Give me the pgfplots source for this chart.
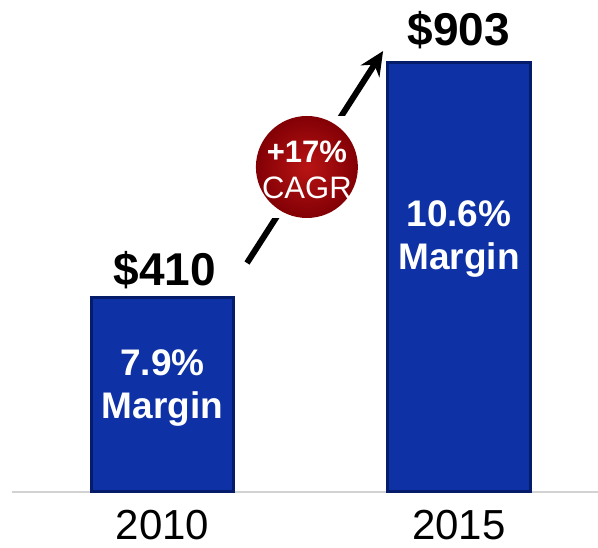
\documentclass[border=0pt]{standalone}
\usepackage{pgfplots}
\pgfplotsset{compat=1.18}
\usepackage{fontspec}
\setmainfont{Liberation Sans}
\usetikzlibrary{arrows.meta}
\definecolor{barblue}{RGB}{14,50,165}
\definecolor{baredge}{RGB}{4,28,105}
\definecolor{cagrin}{RGB}{185,20,20}
\definecolor{cagrout}{RGB}{130,0,5}

\begin{document}
\begin{tikzpicture}
\useasboundingbox (0,0) rectangle (598pt,548pt);
\begin{axis}[
    at={(12pt,56pt)}, anchor=south west,
    scale only axis,
    width=586pt, height=492pt,
    xmin=-0.5076, xmax=1.4688,
    ymin=0, ymax=1034.7,
    ybar, bar width=0.479, bar shift=0pt,
    hide y axis,
    axis x line*=bottom,
    x axis line style={draw=gray!35, line width=1.5pt, -},
    xtick={0,1}, xticklabels={2010,2015},
    major tick length=0pt,
    xticklabel style={font=\fontsize{42}{46}\selectfont, anchor=base, yshift=-48pt},
    clip=false,
]
\addplot[fill=barblue, draw=baredge, line width=3pt] coordinates {(0,410) (1,903)};

% value labels
\node[anchor=base, font=\fontsize{46}{50}\selectfont\bfseries] at (axis cs:0.008,435) {\$410};
\node[anchor=base, font=\fontsize{46}{50}\selectfont\bfseries] at (axis cs:1,940) {\$903};

% margin labels
\node[anchor=base, text=white, font=\fontsize{37}{40}\selectfont\bfseries] at (axis cs:0,246) {7.9\%};
\node[anchor=base, text=white, font=\fontsize{37}{40}\selectfont\bfseries] at (axis cs:0,155.6) {Margin};
\node[anchor=base, text=white, font=\fontsize{37}{40}\selectfont\bfseries] at (axis cs:1,557.3) {10.6\%};
\node[anchor=base, text=white, font=\fontsize{37}{40}\selectfont\bfseries] at (axis cs:1,466.9) {Margin};

% CAGR arrow and badge
\draw[line width=6pt, -{Stealth[length=24pt, width=22pt]}] (axis cs:0.285,481.6) -- (axis cs:0.744,927.4);
\fill[white] ([shift={(-51pt,-51pt)}]axis cs:0.487,683.5) rectangle ([shift={(51pt,51pt)}]axis cs:0.487,683.5);
\shade[inner color=cagrin, outer color=cagrout] (axis cs:0.487,683.5) circle[radius=51pt];
\node[text=white, font=\fontsize{31}{34}\selectfont\bfseries, anchor=base] at ([yshift=4pt]axis cs:0.487,683.5) {+17\%};
\node[text=white, font=\fontsize{31}{34}\selectfont, anchor=base] at ([yshift=-32pt]axis cs:0.487,683.5) {CAGR};
\end{axis}
\end{tikzpicture}
\end{document}
